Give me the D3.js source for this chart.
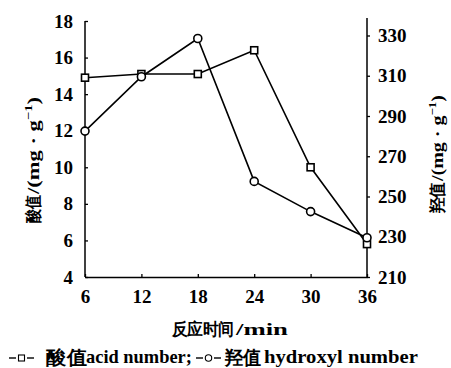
<!DOCTYPE html>
<html><head><meta charset="utf-8">
<script src="https://cdn.jsdelivr.net/npm/d3@7/dist/d3.min.js"></script>
<style>
body{margin:0;background:#fff;}
text{font-family:"Liberation Serif","Times New Roman",serif;font-weight:bold;fill:#000;}
</style></head>
<body><svg id="c" width="451" height="368"></svg>
<script>
const times = [6, 12, 18, 24, 30, 36];
const acidNumber = [14.9, 15.1, 15.1, 16.4, 10.0, 5.8];
const hydroxylNumber = [282.5, 309.5, 328.5, 257.5, 242.5, 229.5];
const leftTicks = [4, 6, 8, 10, 12, 14, 16, 18];
const rightTicks = [210, 230, 250, 270, 290, 310, 330];
const xTicks = [6, 12, 18, 24, 30, 36];

const svg = d3.select("#c");
const L = 85, R = 367, T = 21, B = 277;
const x = d3.scaleLinear().domain([6, 36]).range([L, R]);
const yL = d3.scaleLinear().domain([4, 18]).range([B, T]);
const yR = d3.scaleLinear().domain([210, 337.2]).range([B, T]);

const SERIF = "'Liberation Serif',serif";
const CJK = "'Noto Sans CJK SC',sans-serif";

// axes
const axL = d3.axisLeft(yL).tickValues(leftTicks).tickSizeInner(-3).tickSizeOuter(0).tickPadding(12);
const gL = svg.append("g").attr("transform", `translate(${L},0)`).call(axL);
const axR = d3.axisRight(yR).tickValues(rightTicks).tickSizeInner(3).tickSizeOuter(0).tickPadding(8);
const gR = svg.append("g").attr("transform", `translate(${R},0)`).call(axR);
const axB = d3.axisBottom(x).tickValues(xTicks).tickSizeInner(-3).tickSizeOuter(0).tickPadding(13);
const gB = svg.append("g").attr("transform", `translate(0,${B})`).call(axB);
[gL, gR, gB].forEach(g => {
  g.selectAll("path").attr("stroke", "#000").attr("stroke-width", 1.5);
  g.selectAll("line").attr("stroke", "#000").attr("stroke-width", 1.3);
  g.selectAll("text").attr("font-family", SERIF).attr("font-weight", "bold").attr("font-size", 19).attr("fill", "#000");
});
gB.selectAll("text").attr("dy", "0.7em");
gR.select(".domain").attr("d", `M0,${B}V${T - 3}`);
gL.select(".domain").attr("d", `M0,${B}V${T}`);

// lines
const acidData = times.map((t, i) => [t, acidNumber[i]]);
const hydData = times.map((t, i) => [t, hydroxylNumber[i]]);
svg.append("path").datum(acidData).attr("fill", "none").attr("stroke", "#000").attr("stroke-width", 1.6)
  .attr("d", d3.line().x(d => x(d[0])).y(d => yL(d[1])));
svg.append("path").datum(hydData).attr("fill", "none").attr("stroke", "#000").attr("stroke-width", 1.6)
  .attr("d", d3.line().x(d => x(d[0])).y(d => yR(d[1])));
svg.selectAll(".sq").data(acidData).enter().append("rect")
  .attr("x", d => x(d[0]) - 3.5).attr("y", d => yL(d[1]) - 3.5).attr("width", 7).attr("height", 7)
  .attr("fill", "#fff").attr("stroke", "#000").attr("stroke-width", 1.6);
svg.selectAll(".ci").data(hydData).enter().append("circle")
  .attr("cx", d => x(d[0])).attr("cy", d => yR(d[1])).attr("r", 4)
  .attr("fill", "#fff").attr("stroke", "#000").attr("stroke-width", 1.6);

// place a run of text pieces into [x0,x1] by horizontal scaling
function fitRun(parent, pieces, x0, x1, baseline) {
  const g = parent.append("g");
  const inner = g.append("g");
  let cx = 0;
  pieces.forEach(p => {
    const el = inner.append("text").attr("x", cx).attr("y", p.dy || 0)
      .attr("font-family", p.cjk ? CJK : SERIF).attr("font-weight", p.cjk ? 900 : "bold")
      .attr("font-size", p.size).attr("xml:space", "preserve").style("white-space", "pre").text(p.t);
    cx += el.node().getComputedTextLength();
  });
  const sx = (x1 - x0) / cx;
  g.attr("transform", `translate(${x0},${baseline}) scale(${sx},1)`);
  return g;
}

// left y title (rotated, reads bottom->top)
const lt = svg.append("g").attr("transform", "translate(39,0) rotate(-90)");
fitRun(lt, [{t: "酸值", cjk: true, size: 17}], -223, -195, 0);
fitRun(lt, [{t: "/(mg · g", size: 17}, {t: "−1", size: 11, dy: -7}, {t: ")", size: 17}], -194, -97, 0);

// right y title
const rt = svg.append("g").attr("transform", "translate(443,0) rotate(-90)");
fitRun(rt, [{t: "羟值", cjk: true, size: 17}], -213, -182, 0);
fitRun(rt, [{t: "/(mg · g", size: 17}, {t: "−1", size: 11, dy: -7}, {t: ")", size: 17}], -181, -95, 0);

// x title
fitRun(svg, [{t: "反应时间", cjk: true, size: 17}], 172, 235, 335);
fitRun(svg, [{t: "/min", size: 17}], 236, 288, 335);

// legend
function legendSym(x0, y0, kind) {
  svg.append("line").attr("x1", x0).attr("x2", x0 + 7).attr("y1", y0).attr("y2", y0).attr("stroke", "#000").attr("stroke-width", 1.4);
  svg.append("line").attr("x1", x0 + 18).attr("x2", x0 + 25).attr("y1", y0).attr("y2", y0).attr("stroke", "#000").attr("stroke-width", 1.4);
  if (kind === "sq") svg.append("rect").attr("x", x0 + 9.5).attr("y", y0 - 3).attr("width", 6).attr("height", 6).attr("fill", "#fff").attr("stroke", "#000").attr("stroke-width", 1.1);
  else svg.append("circle").attr("cx", x0 + 12.5).attr("cy", y0).attr("r", 3.2).attr("fill", "#fff").attr("stroke", "#000").attr("stroke-width", 1.1);
}
legendSym(9, 358, "sq");
legendSym(196, 358, "ci");
fitRun(svg, [{t: "酸值", cjk: true, size: 19}], 46, 86, 364);
fitRun(svg, [{t: "acid number;", size: 19}], 86, 192, 363);
fitRun(svg, [{t: "羟值", cjk: true, size: 19}], 225, 261, 364);
fitRun(svg, [{t: "hydroxyl number", size: 19}], 264, 418, 363);
</script></body></html>
